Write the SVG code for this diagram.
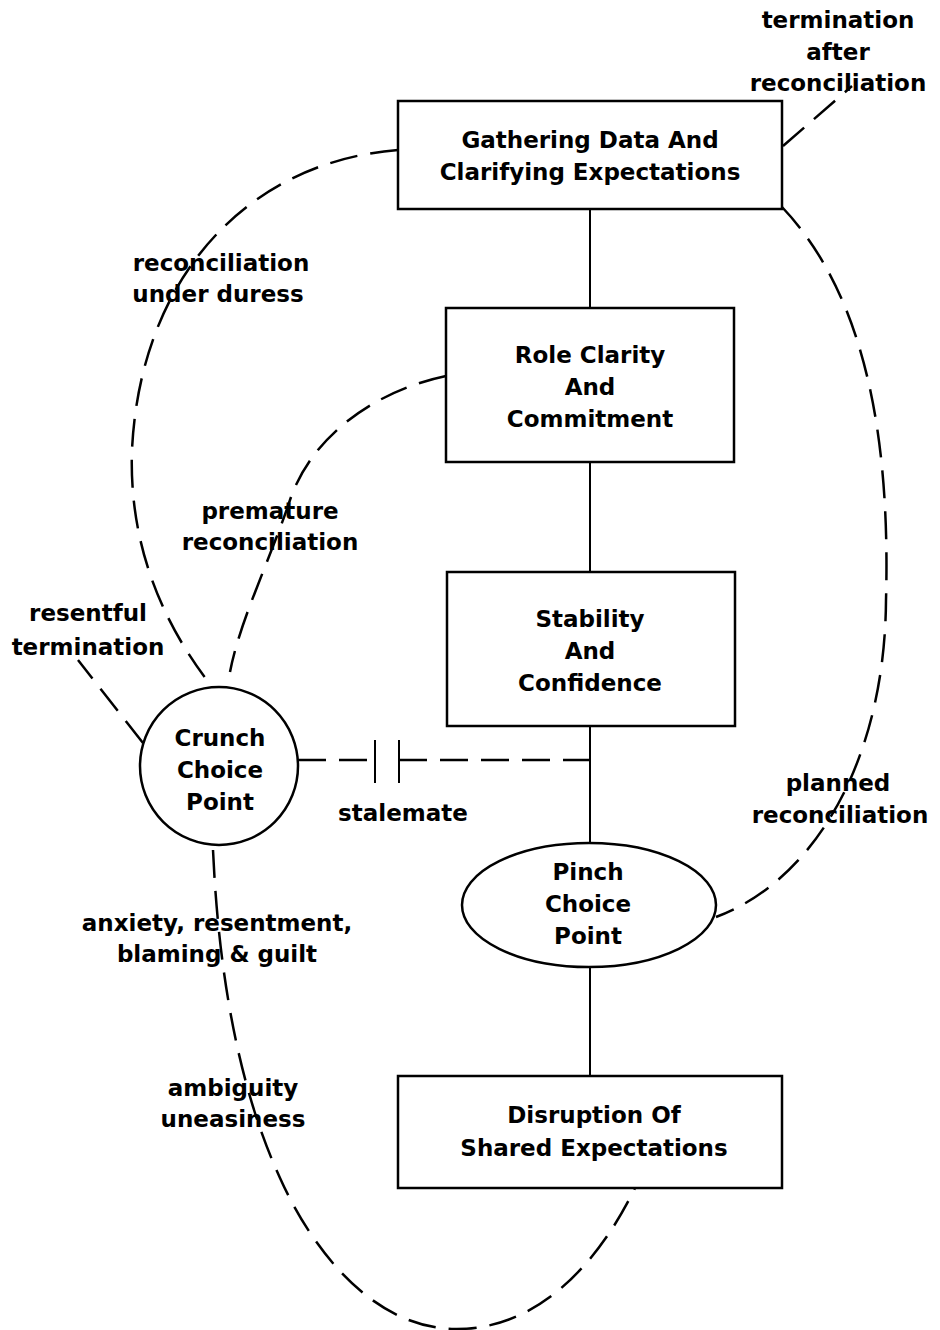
<svg xmlns="http://www.w3.org/2000/svg" width="940" height="1330" viewBox="0 0 940 1330">
<style>
.n{fill:#fff;stroke:#000;stroke-width:2.5}
.t{font-family:"DejaVu Sans",sans-serif;font-weight:bold;font-size:23px;fill:#000;text-anchor:middle}
.s{fill:none;stroke:#000;stroke-width:2}
.d{fill:none;stroke:#000;stroke-width:2.5;stroke-dasharray:28 13}
</style>
<rect width="940" height="1330" fill="#fff"/>
<g id="connectors">
<path class="s" d="M590,209V308M590,462V572M590,726V843M590,967V1076"/>
<path class="d" d="M398,150 C245,162 140,280 132,450 C128,560 175,640 213,688"/>
<path class="d" d="M446,376 C370,392 310,440 290,500 C270,560 240,620 230,672"/>
<path class="d" d="M143,743 L78,660"/>
<path class="d" d="M783,146 L852,86"/>
<path class="d" d="M782,207 C870,300 890,450 886,600 C885,760 815,880 716,917"/>
<path class="d" d="M213,850 C218,960 235,1080 280,1178 C310,1245 370,1328 455,1329 C540,1330 600,1260 635,1188"/>
<path class="d" d="M298,760H375M399,760H590"/>
<path class="s" d="M375,740V783M399,740V783"/>
</g>
<g id="gathering">
<rect class="n" x="398" y="101" width="384" height="108"/>
<text class="t" x="590" y="148">Gathering Data And</text>
<text class="t" x="590" y="180">Clarifying Expectations</text>
</g>
<g id="role">
<rect class="n" x="446" y="308" width="288" height="154"/>
<text class="t" x="590" y="363">Role Clarity</text>
<text class="t" x="590" y="395">And</text>
<text class="t" x="590" y="427">Commitment</text>
</g>
<g id="stability">
<rect class="n" x="447" y="572" width="288" height="154"/>
<text class="t" x="590" y="627">Stability</text>
<text class="t" x="590" y="659">And</text>
<text class="t" x="590" y="691">Confidence</text>
</g>
<g id="pinch">
<ellipse class="n" cx="589" cy="905" rx="127" ry="62"/>
<text class="t" x="588" y="880">Pinch</text>
<text class="t" x="588" y="912">Choice</text>
<text class="t" x="588" y="944">Point</text>
</g>
<g id="disruption">
<rect class="n" x="398" y="1076" width="384" height="112"/>
<text class="t" x="594" y="1123">Disruption Of</text>
<text class="t" x="594" y="1156">Shared Expectations</text>
</g>
<g id="crunch">
<circle class="n" cx="219" cy="766" r="79"/>
<text class="t" x="220" y="746">Crunch</text>
<text class="t" x="220" y="778">Choice</text>
<text class="t" x="220" y="810">Point</text>
</g>
<g id="labels">
<text class="t" x="838" y="28">termination</text>
<text class="t" x="838" y="60">after</text>
<text class="t" x="838" y="91">reconciliation</text>
<text class="t" x="221" y="271">reconciliation</text>
<text class="t" x="218" y="302">under duress</text>
<text class="t" x="270" y="519">premature</text>
<text class="t" x="270" y="550">reconciliation</text>
<text class="t" x="88" y="621">resentful</text>
<text class="t" x="88" y="655">termination</text>
<text class="t" x="403" y="821">stalemate</text>
<text class="t" x="838" y="791">planned</text>
<text class="t" x="840" y="823">reconciliation</text>
<text class="t" x="217" y="931">anxiety, resentment,</text>
<text class="t" x="217" y="962">blaming &amp; guilt</text>
<text class="t" x="233" y="1096">ambiguity</text>
<text class="t" x="233" y="1127">uneasiness</text>
</g>
</svg>
